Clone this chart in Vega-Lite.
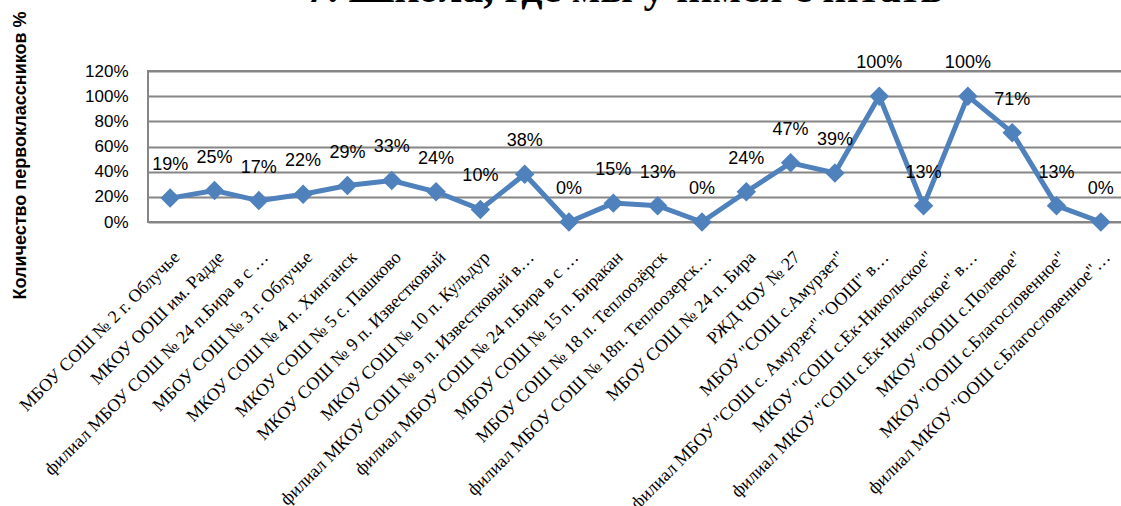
{
  "$schema": "https://vega.github.io/schema/vega-lite/v6.json",
  "autosize": {"type": "none"},
  "padding": {"left": 148, "top": 71, "right": 0, "bottom": 284},
  "width": 975,
  "height": 151,
  "background": "white",
  "title": {
    "text": "7. Школа, где мы учимся считать",
    "font": "Liberation Serif",
    "fontSize": 42,
    "fontWeight": "bold",
    "color": "black",
    "anchor": "middle",
    "frame": "group",
    "baseline": "alphabetic",
    "offset": -33,
    "dx": -11
  },
  "config": {
    "view": {"stroke": "#868686", "strokeWidth": 2},
    "axis": {"labelColor": "black", "titleColor": "black"}
  },
  "data": {
    "values": [
      {"school": "МБОУ СОШ № 2 г. Облучье", "v": 0.19},
      {"school": "МКОУ ООШ им. Радде", "v": 0.25},
      {"school": "филиал МБОУ СОШ № 24 п.Бира в с …", "v": 0.17},
      {"school": "МБОУ СОШ № 3 г. Облучье", "v": 0.22},
      {"school": "МКОУ СОШ № 4 п. Хинганск", "v": 0.29},
      {"school": "МКОУ СОШ № 5 с. Пашково", "v": 0.33},
      {"school": "МКОУ СОШ № 9 п. Известковый", "v": 0.24},
      {"school": "МКОУ СОШ № 10 п. Кульдур", "v": 0.10},
      {"school": "филиал МКОУ СОШ № 9 п. Известковый в…", "v": 0.38},
      {"school": "филиал МБОУ СОШ № 24 п.Бира в с …\u200b", "v": 0.0},
      {"school": "МБОУ СОШ № 15 п. Биракан", "v": 0.15},
      {"school": "МБОУ СОШ № 18 п. Теплоозёрск", "v": 0.13},
      {"school": "филиал МБОУ СОШ № 18п. Теплоозерск…", "v": 0.0},
      {"school": "МБОУ СОШ № 24 п. Бира", "v": 0.24},
      {"school": "РЖД ЧОУ № 27", "v": 0.47},
      {"school": "МБОУ \"СОШ с.Амурзет\"", "v": 0.39},
      {"school": "филиал МБОУ \"СОШ с. Амурзет\" \"ООШ\" в…", "v": 1.0},
      {"school": "МКОУ \"СОШ с.Ек-Никольское\"", "v": 0.13},
      {"school": "филиал МКОУ \"СОШ с.Ек-Никольское\"  в…", "v": 1.0},
      {"school": "МКОУ \"ООШ с.Полевое\"", "v": 0.71},
      {"school": "МКОУ \"ООШ с.Благословенное\"", "v": 0.13},
      {"school": "филиал МКОУ \"ООШ с.Благословенное\"…", "v": 0.0}
    ]
  },
  "encoding": {
    "x": {
      "field": "school",
      "type": "nominal",
      "sort": null,
      "scale": {"type": "point", "padding": 0.5},
      "axis": {
        "title": null,
        "labelAngle": -45,
        "labelFont": "Liberation Serif",
        "labelFontSize": 18,
        "labelLimit": 400,
        "labelPadding": 26,
        "ticks": false,
        "domain": false,
        "grid": false
      }
    },
    "y": {
      "field": "v",
      "type": "quantitative",
      "scale": {"domain": [0, 1.2], "nice": false},
      "axis": {
        "values": [0, 0.2, 0.4, 0.6, 0.8, 1.0, 1.2],
        "format": ".0%",
        "title": "Количество первоклассников %",
        "titleFont": "Liberation Sans",
        "titleFontSize": 18,
        "titleFontWeight": "bold",
        "titleAngle": -90,
        "titleX": -128,
        "titleY": 84,
        "titleAlign": "center",
        "titleBaseline": "middle",
        "labelFont": "Liberation Sans",
        "labelFontSize": 17,
        "labelPadding": 20,
        "ticks": false,
        "domain": false,
        "grid": true,
        "gridColor": "#868686",
        "gridWidth": 2
      }
    }
  },
  "layer": [
    {
      "mark": {"type": "line", "color": "#4F81BD", "strokeWidth": 5}
    },
    {
      "mark": {"type": "point", "shape": "diamond", "filled": true, "color": "#4F81BD", "size": 380, "opacity": 1}
    },
    {
      "mark": {"type": "text", "dy": -33, "font": "Liberation Sans", "fontSize": 18, "color": "black", "baseline": "middle"},
      "encoding": {"text": {"field": "v", "type": "quantitative", "format": ".0%"}}
    }
  ]
}
